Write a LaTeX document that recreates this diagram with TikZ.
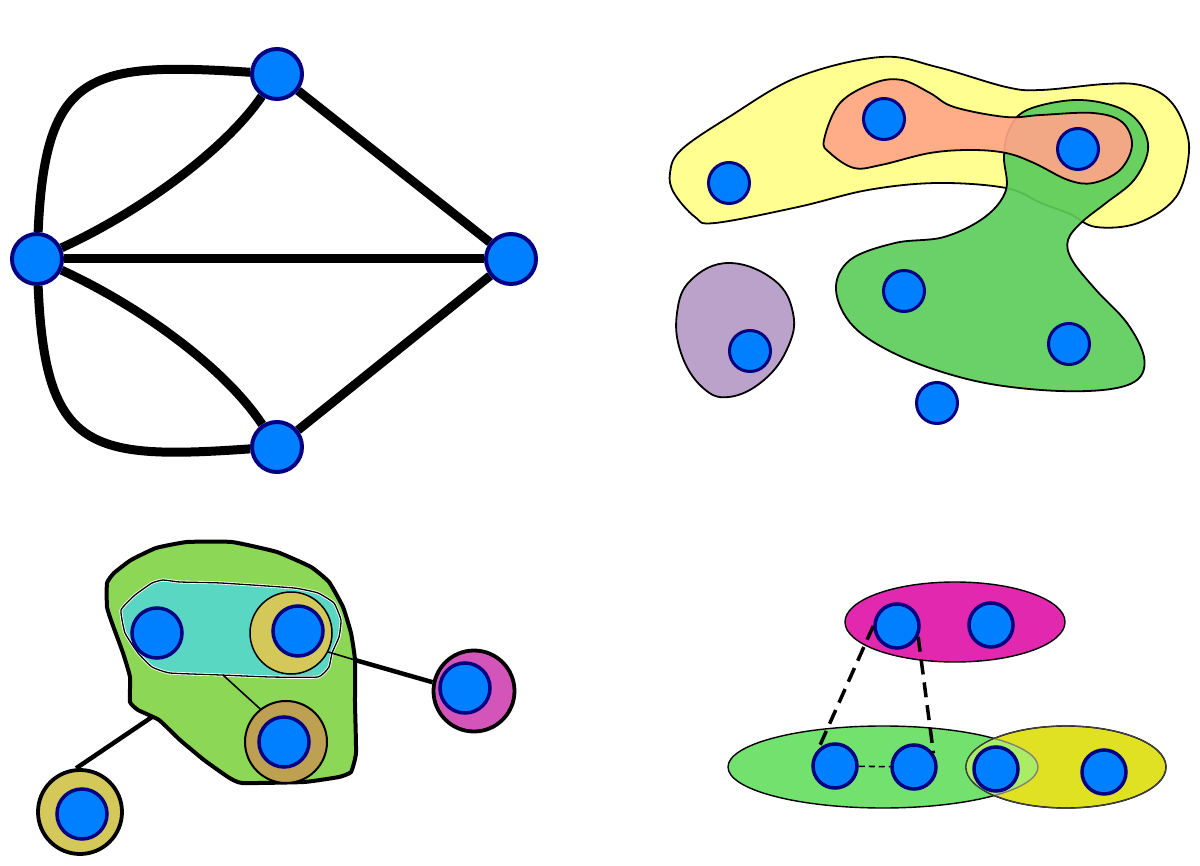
\documentclass[tikz,border=0pt]{standalone}
\usetikzlibrary{calc}
\definecolor{nodeblue}{RGB}{0,128,255}
\definecolor{nodeborder}{RGB}{0,0,128}
\definecolor{hyellow}{RGB}{255,255,145}
\definecolor{hsalmon}{RGB}{255,165,137}
\definecolor{hgreen}{RGB}{92,205,90}
\definecolor{hpurple}{RGB}{187,162,203}
\definecolor{bgreen}{RGB}{140,215,85}
\definecolor{bcyan}{RGB}{90,215,195}
\definecolor{ringyellow}{RGB}{212,200,90}
\definecolor{ringbrown}{RGB}{190,160,82}
\definecolor{ringpink}{RGB}{212,85,186}
\definecolor{emagenta}{RGB}{225,40,175}
\definecolor{egreen}{RGB}{115,225,110}
\definecolor{eyellow}{RGB}{225,225,35}
\definecolor{elens}{RGB}{172,236,100}
\pgfdeclarelayer{bg}
\pgfsetlayers{bg,main}
\tikzset{
  vtx/.style={circle, inner sep=0pt, fill=nodeblue, draw=nodeborder, line width=3.5pt},
  vbig/.style={vtx, line width=4pt, minimum size=50pt},
  vmid/.style={vtx, line width=3pt, minimum size=41pt},
  vbl/.style={vtx, minimum size=50pt},
  vbr/.style={vtx, minimum size=44pt},
  grafedge/.style={line width=9pt},
  blob/.style={draw=black, line width=1.8pt},
  ringthin/.style={circle, inner sep=0pt, draw=black, line width=1.5pt, minimum size=82pt},
  ringthick/.style={circle, inner sep=0pt, draw=black, line width=3.8pt, minimum size=81pt},
  dashline/.style={line width=3.5pt, dash pattern=on 15pt off 8pt},
}
\begin{document}
\begin{tikzpicture}[x=1pt,y=-1pt]
\useasboundingbox (0,0) rectangle (1200,866);

% ---------------- top-left graph ----------------
\node[vbig] (A) at (277,74) {};
\node[vbig] (B) at (37,259) {};
\node[vbig] (C) at (511,259) {};
\node[vbig] (D) at (277,447) {};
\begin{pgfonlayer}{bg}
\draw[grafedge] (B) -- (C);
\draw[grafedge] (A) -- (C);
\draw[grafedge] (D) -- (C);
\draw[grafedge] (B) .. controls (45,70) and (90,62) .. (A);
\draw[grafedge] (B) .. controls (45,452) and (90,460) .. (D);
\draw[grafedge] (B) .. controls (140,212) and (225,150) .. (A);
\draw[grafedge] (B) .. controls (140,306) and (225,368) .. (D);
\end{pgfonlayer}

% ---------------- top-right hypergraph ----------------
\draw[blob, fill=hyellow] plot[smooth cycle, tension=0.6] coordinates {
  (670,173) (681,150) (729,117) (798,77) (881,57) (937,67) (1006,87) (1041,90)
  (1105,84) (1140,85) (1166,97) (1182,120) (1189,152) (1176,197) (1138,223) (1096,227)
  (1070,214) (1041,203) (1006,188) (937,183) (868,190) (798,207) (715,223)
  (695,217) (674,193)};
\draw[blob, fill=hgreen, fill opacity=0.92] plot[smooth cycle, tension=0.6] coordinates {
  (1006,190) (1004,157) (1009,130) (1027,110) (1075,100) (1117,107) (1140,124)
  (1148,150) (1134,180) (1106,203) (1082,222) (1068,240) (1072,260) (1096,290)
  (1127,323) (1144,357) (1137,380) (1103,390) (1041,390) (971,380) (902,357)
  (854,327) (836,290) (850,260) (895,243) (944,237) (985,217)};
\draw[blob, fill=hsalmon, fill opacity=0.92] plot[smooth cycle, tension=0.6] coordinates {
  (824,140) (840,103) (874,83) (902,80) (930,93) (954,107) (1006,117) (1041,115)
  (1093,113) (1122,122) (1132,145) (1120,170) (1093,183) (1068,180) (1034,163)
  (1006,153) (971,150) (930,153) (881,165) (854,168) (830,153)};
\draw[blob, fill=hpurple] plot[smooth cycle, tension=0.7] coordinates {
  (729,263) (774,280) (793,313) (788,347) (764,380) (729,397) (702,387)
  (681,353) (677,313) (691,280)};
\node[vmid] (t1) at (729,183) {};
\node[vmid] (t2) at (884,119) {};
\node[vmid] (t3) at (1078,149) {};
\node[vmid] (t4) at (904,291) {};
\node[vmid] (t5) at (1069,344) {};
\node[vmid] (t6) at (750,351) {};
\node[vmid] (t7) at (937,403) {};

% ---------------- bottom-left ----------------
\draw[draw=black, line width=4pt, fill=bgreen] plot[smooth cycle, tension=0.25] coordinates {
  (107,583) (114,573) (131,560) (156,548) (187,542) (232,542) (277,552) (311,567)
  (329,582) (343,607) (351,633) (355,660) (355,703) (356,753) (351,772) (339,777)
  (304,782) (242,783) (228,777) (204,760) (180,740) (159,720) (138,710) (130,702)
  (130,677) (123,653) (112,623) (107,607)};
\draw[draw=white, line width=3pt, fill=bcyan] plot[smooth cycle, tension=0.25] coordinates {
  (121,610) (135,595) (152,583) (163,580) (180,582) (221,583) (294,588) (318,593)
  (334,603) (341,620) (339,637) (332,653) (329,667) (318,677) (270,677) (221,675)
  (170,673) (152,667) (138,653) (125,633)};
\draw[draw=black, line width=1.3pt] plot[smooth cycle, tension=0.25] coordinates {
  (121,610) (135,595) (152,583) (163,580) (180,582) (221,583) (294,588) (318,593)
  (334,603) (341,620) (339,637) (332,653) (329,667) (318,677) (270,677) (221,675)
  (170,673) (152,667) (138,653) (125,633)};
\node[ringthin, fill=ringyellow] (ry) at (291,633) {};
\node[ringthin, line width=2pt, fill=ringbrown] (rb) at (286,742) {};
\node[ringthick, fill=ringpink] (rp) at (474,691) {};
\node[ringthick, fill=ringyellow, minimum size=84pt] (rl) at (80,812) {};
\coordinate (cb) at (223,675);
\coordinate (gb) at (355,660);
\coordinate (gl) at (152,717);
\draw[line width=1.6pt] (cb) -- (rb.128);
\draw[line width=1.6pt] (ry.-27) -- (gb);
\draw[line width=4.5pt] (gb) -- (rp.168);
\draw[line width=4.5pt] (gl) -- (rl.95);
\node[vbl] (l1) at (157,633) {};
\node[vbl] (l2) at (298,631) {};
\node[vbl] (l3) at (284,742) {};
\node[vbl] (l4) at (465,688) {};
\node[vbl] (l5) at (82,814) {};

% ---------------- bottom-right ----------------
\draw[blob, line width=1.4pt, fill=emagenta] (955,622) ellipse [x radius=110, y radius=40];
\draw[blob, line width=1.4pt, fill=egreen] (883,767) ellipse [x radius=155, y radius=41];
\draw[blob, line width=1.4pt, fill=eyellow] (1066,767) ellipse [x radius=100, y radius=41];
\begin{scope}
\clip (1066,767) ellipse [x radius=100, y radius=41];
\fill[elens] (883,767) ellipse [x radius=155, y radius=41];
\draw[gray, line width=1.4pt] (883,767) ellipse [x radius=155, y radius=41];
\end{scope}
\draw[draw=black!75, line width=1.2pt] (1066,767) ellipse [x radius=100, y radius=41];
\node[vbr] (m1) at (897,626) {};
\node[vbr] (m2) at (991,625) {};
\node[vbr] (g1) at (835,766) {};
\node[vbr] (g2) at (914,767) {};
\node[vbr] (g3) at (996,769) {};
\node[vbr] (y1) at (1104,772) {};
\draw[dashline] (m1.west) -- (g1.north west);
\draw[dashline] (m1.-27) -- (g2.35);
\draw[line width=1.6pt, dash pattern=on 6pt off 4pt] (g1) -- (g2);
\end{tikzpicture}
\end{document}
